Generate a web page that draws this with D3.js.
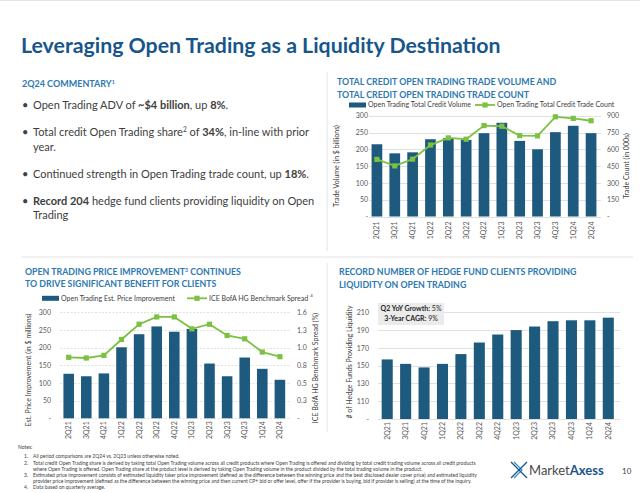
<!DOCTYPE html>
<html><head><meta charset="utf-8">
<script src="https://cdn.jsdelivr.net/npm/d3@7"></script>
<style>
body{margin:0;background:#fff}
svg{display:block;font-family:Lato,'Open Sans',sans-serif}
</style>
</head><body>
<svg id="c" width="640" height="493"></svg>
<script>
// ---------- DATA ----------
const quarters = ["2Q21","3Q21","4Q21","1Q22","2Q22","3Q22","4Q22","1Q23","2Q23","3Q23","4Q23","1Q24","2Q24"];
const tradeVolume = [215,188,191,230,233,228,248,279,225,200,251,270,248];          // $ billions
const tradeCount = [510,452,512,638,702,690,812,806,722,720,890,876,855];            // 000s
const priceImprovement = [126,119,127,201,238,260,245,253,155,119,172,140,109];       // $ millions
const benchmarkSpread = [0.92,0.91,0.95,1.19,1.42,1.53,1.53,1.35,1.42,1.25,1.20,1.00,0.93]; // %
const hedgeFunds = [157,152,148,152,163,176,185,190,194,200,201,201,204];

const volTicks = [0,50,100,150,200,250,300];
const volLabels = ["-","50","100","150","200","250","300"];
const countTicks = [0,150,300,450,600,750,900];
const countLabels = ["-","150","300","450","600","750","900"];
const piTicks = [0,50,100,150,200,250,300];
const piLabels = ["-","50","100","150","200","250","300"];
const spreadTicks = [0,1.6/6,3.2/6,0.8,6.4/6,8/6,1.6];
const spreadLabels = ["-","0.3","0.5","0.8","1.0","1.3","1.6"];
const hfTicks = [90,110,130,150,170,190,210];
const hfLabels = ["-","110","130","150","170","190","210"];

// ---------- STYLE ----------
const BAR = "#1d5a7e", GREEN = "#7cc142", NAVY = "#17568b", TEAL = "#2d79b2";
const TXT = "#404040", TICK = "#595959", GRID = "#d9d9d9";

const svg = d3.select("#c");

// frame lines
const frame = svg.append("g").attr("stroke", "#e3e3e3").attr("stroke-width", 1);
frame.append("line").attr("x1", 0).attr("x2", 640).attr("y1", 0.5).attr("y2", 0.5);
frame.append("line").attr("x1", 22).attr("x2", 633).attr("y1", 257).attr("y2", 257);
frame.append("line").attr("x1", 327).attr("x2", 327).attr("y1", 72).attr("y2", 251);
frame.append("line").attr("x1", 327).attr("x2", 327).attr("y1", 263).attr("y2", 432);

// main title
svg.append("text").attr("x", 21).attr("y", 53).attr("fill", NAVY)
  .attr("font-size", 21.3).attr("font-weight", 700).text("Leveraging Open Trading as a Liquidity Destination");

// helper for text with superscript
function supText(sel, x, y, parts, opts) {
  const t = sel.append("text").attr("x", x).attr("y", y)
    .attr("fill", opts.fill).attr("font-size", opts.size).attr("font-weight", opts.weight || 400);
  if (opts.anchor) t.attr("text-anchor", opts.anchor);
  parts.forEach(p => {
    const ts = t.append("tspan").text(p.t);
    if (p.b) ts.attr("font-weight", 700);
    if (p.sup) ts.attr("baseline-shift", "super").attr("font-size", opts.size * 0.6);
  });
  return t;
}

// ---------- COMMENTARY ----------
supText(svg, 22, 87, [{t:"2Q24 COMMENTARY"},{t:"1",sup:1}], {fill: TEAL, size: 9, weight: 700});
const bullets = [
  {y:[109], lines:[[{t:"Open Trading ADV of "},{t:"~$4 billion",b:1},{t:", up "},{t:"8%",b:1},{t:"."}]]},
  {y:[136,151], lines:[[{t:"Total credit Open Trading share"},{t:"2",sup:1},{t:" of "},{t:"34%",b:1},{t:", in-line with prior"}],[{t:"year."}]]},
  {y:[178], lines:[[{t:"Continued strength in Open Trading trade count, up "},{t:"18%",b:1},{t:"."}]]},
  {y:[205,219], lines:[[{t:"Record 204",b:1},{t:" hedge fund clients providing liquidity on Open"}],[{t:"Trading"}]]}
];
bullets.forEach(b => {
  svg.append("text").attr("x", 22).attr("y", b.y[0]).attr("fill", TXT).attr("font-size", 11).text("•");
  b.lines.forEach((ln, i) => supText(svg, 33, b.y[i], ln, {fill: TXT, size: 11}));
});

// ---------- CHART HELPER ----------
function chart(o) {
  const g = svg.append("g");
  const x = d3.scaleBand().domain(quarters).range(o.xRange).paddingInner(0.4).paddingOuter(0.2);
  const y = d3.scaleLinear().domain(o.yDomain).range(o.yRange);
  g.append("g").selectAll("line").data(o.yTicks).join("line")
    .attr("x1", o.gridX[0]).attr("x2", o.gridX[1])
    .attr("y1", d => Math.round(y(d)) + 0.5).attr("y2", d => Math.round(y(d)) + 0.5)
    .attr("stroke", GRID).attr("stroke-width", 0.8)
    .attr("stroke-dasharray", o.gridDash || null);
  g.append("g").selectAll("rect").data(o.values).join("rect")
    .attr("x", (d, i) => x(quarters[i])).attr("width", x.bandwidth())
    .attr("y", d => y(d)).attr("height", d => y(o.yDomain[0]) - y(d))
    .attr("fill", BAR);
  const la = g.append("g").attr("transform", `translate(${o.leftLabelX},0)`)
    .call(d3.axisLeft(y).tickValues(o.yTicks).tickFormat((d, i) => o.yLabels[i]).tickSize(0).tickPadding(0));
  la.select(".domain").remove();
  la.selectAll("text").attr("font-size", 7).attr("fill", TICK).attr("font-family", "Lato,sans-serif");
  const xa = g.append("g").attr("transform", `translate(0,${y(o.yDomain[0])})`)
    .call(d3.axisBottom(x).tickSize(0));
  xa.select(".domain").remove();
  xa.selectAll("text").attr("transform", "rotate(-90)").attr("text-anchor", "end")
    .attr("x", -o.xLabelGap).attr("y", 0).attr("dy", "0.35em")
    .attr("font-size", 7).attr("fill", TICK).attr("font-family", "Lato,sans-serif");
  g.append("text").attr("transform", `translate(${o.leftTitle[0]},${o.leftTitle[1]}) rotate(-90)`)
    .attr("text-anchor", "middle").attr("dy", "0.35em").attr("font-size", 7).attr("fill", TXT).text(o.leftTitle[2]);
  if (o.line) {
    const yR = d3.scaleLinear().domain(o.rDomain).range(o.yRange);
    const ra = g.append("g").attr("transform", `translate(${o.rightLabelX},0)`)
      .call(d3.axisRight(yR).tickValues(o.rTicks).tickFormat((d, i) => o.rLabels[i]).tickSize(0).tickPadding(0));
    ra.select(".domain").remove();
    ra.selectAll("text").attr("font-size", 7).attr("fill", TICK).attr("font-family", "Lato,sans-serif");
    const cx = (d, i) => x(quarters[i]) + x.bandwidth() / 2;
    g.append("path").datum(o.line)
      .attr("d", d3.line().x(cx).y(d => yR(d)))
      .attr("fill", "none").attr("stroke", GREEN).attr("stroke-width", 1.8);
    g.append("g").selectAll("rect").data(o.line).join("rect")
      .attr("x", (d, i) => cx(d, i) - 2.6).attr("y", d => yR(d) - 2.6)
      .attr("width", 5.2).attr("height", 5.2).attr("fill", GREEN);
    g.append("text").attr("transform", `translate(${o.rightTitle[0]},${o.rightTitle[1]}) rotate(-90)`)
      .attr("text-anchor", "middle").attr("dy", "0.35em").attr("font-size", 7).attr("fill", TXT).text(o.rightTitle[2]);
  }
  return {x, y};
}

function legend(y, items) {
  items.forEach(it => {
    if (it.type === "bar") {
      svg.append("rect").attr("x", it.x).attr("y", y - 2.5).attr("width", 17).attr("height", 5).attr("fill", BAR);
      svg.append("text").attr("x", it.x + 19).attr("y", y).attr("dy", "0.35em").attr("font-size", 7).attr("fill", TXT).text(it.label);
    } else {
      svg.append("line").attr("x1", it.x).attr("x2", it.x + 20).attr("y1", y).attr("y2", y).attr("stroke", GREEN).attr("stroke-width", 1.8);
      svg.append("rect").attr("x", it.x + 7.4).attr("y", y - 2.6).attr("width", 5.2).attr("height", 5.2).attr("fill", GREEN);
      const t = svg.append("text").attr("x", it.x + 22).attr("y", y).attr("dy", "0.35em").attr("font-size", 7).attr("fill", TXT).text(it.label);
      if (it.sup) t.append("tspan").attr("dx", 2).attr("dy", -4).attr("font-size", 4.5).text(it.sup);
    }
  });
}

function title2(x, y, parts) {
  return supText(svg, x, y, parts, {fill: TEAL, size: 8.8, weight: 700});
}

// ---------- CHART 1 ----------
title2(337, 85, [{t:"TOTAL CREDIT OPEN TRADING TRADE VOLUME AND"}]);
title2(337, 97.5, [{t:"TOTAL CREDIT OPEN TRADING TRADE COUNT"}]);
legend(105, [
  {type: "bar", x: 349, label: "Open Trading Total Credit Volume"},
  {type: "line", x: 475, label: "Open Trading Total Credit Trade Count"}
]);
chart({
  xRange: [368, 600], yDomain: [0, 300], yRange: [216.5, 115.7], yTicks: volTicks, yLabels: volLabels,
  gridX: [369, 601], values: tradeVolume, leftLabelX: 368, xLabelGap: 5,
  leftTitle: [337, 166, "Trade Volume (in $ billions)"],
  line: tradeCount, rDomain: [0, 900], rTicks: countTicks, rLabels: countLabels, rightLabelX: 607,
  rightTitle: [627, 166, "Trade Count (in 000s)"]
});

// ---------- CHART 2 ----------
title2(25, 274.5, [{t:"OPEN TRADING PRICE IMPROVEMENT"},{t:"3",sup:1},{t:" CONTINUES"}]);
title2(25, 287, [{t:"TO DRIVE SIGNIFICANT BENEFIT FOR CLIENTS"}]);
legend(298.3, [
  {type: "bar", x: 42, label: "Open Trading Est. Price Improvement"},
  {type: "line", x: 187, label: "ICE BofA HG Benchmark Spread", sup: "4"}
]);
chart({
  xRange: [59.9, 288.7], yDomain: [0, 300], yRange: [418.3, 312.3], yTicks: piTicks, yLabels: piLabels,
  gridX: [60, 290], gridDash: "2,1.5", values: priceImprovement, leftLabelX: 51, xLabelGap: 3,
  leftTitle: [28.5, 370, "Est. Price Improvement (in $ millions)"],
  line: benchmarkSpread, rDomain: [0, 1.6], rTicks: spreadTicks, rLabels: spreadLabels, rightLabelX: 297,
  rightTitle: [316, 368, "ICE BofA HG Benchmark Spread (%)"]
});

// ---------- CHART 3 ----------
title2(339, 275, [{t:"RECORD NUMBER OF HEDGE FUND CLIENTS PROVIDING"}]);
title2(339, 287.5, [{t:"LIQUIDITY ON OPEN TRADING"}]);
chart({
  xRange: [378, 617.5], yDomain: [90, 210], yRange: [419, 312.3], yTicks: hfTicks, yLabels: hfLabels,
  gridX: [378, 620], values: hedgeFunds, leftLabelX: 369, xLabelGap: 3,
  leftTitle: [350, 362, "# of Hedge Funds Providing Liquidity"]
});
svg.append("rect").attr("x", 378).attr("y", 303).attr("width", 66).attr("height", 22).attr("fill", "#ebebeb");
supText(svg, 411, 308.5, [{t:"Q2 YoY Growth:",b:1},{t:" 5%"}], {fill: "#262626", size: 7, anchor: "middle"}).attr("dy","0.35em");
supText(svg, 411, 318.5, [{t:"3-Year CAGR:",b:1},{t:" 9%"}], {fill: "#262626", size: 7, anchor: "middle"}).attr("dy","0.35em");

// ---------- NOTES ----------
const notes = svg.append("g").attr("font-size", 5).attr("fill", TXT);
notes.append("text").attr("x", 18).attr("y", 449).text("Notes:");
const noteLines = [
  ["1.", "All period comparisons are 2Q24 vs. 2Q23 unless otherwise noted.", 458],
  ["2.", "Total credit Open Trading share is derived by taking total Open Trading volume across all credit products where Open Trading is offered and dividing by total credit trading volume across all credit products", 465],
  ["", "where Open Trading is offered. Open Trading share at the product level is derived by taking Open Trading volume in the product divided by the total trading volume in the product.", 471],
  ["3.", "Estimated price improvement consists of estimated liquidity taker price improvement (defined as the difference between the winning price and the best disclosed dealer cover price) and estimated liquidity", 477],
  ["", "provider price improvement (defined as the difference between the winning price and then current CP+ bid or offer level, offer if the provider is buying, bid if provider is selling) at the time of the inquiry.", 483],
  ["4.", "Data based on quarterly average.", 489]
];
noteLines.forEach(n => {
  if (n[0]) notes.append("text").attr("x", 24).attr("y", n[2]).text(n[0]);
  notes.append("text").attr("x", 33).attr("y", n[2]).text(n[1]);
});

// ---------- LOGO ----------
const logo = svg.append("g").attr("stroke", NAVY).attr("stroke-width", 1.3).attr("fill", "none");
logo.append("path").attr("d", "M511,462 L519,470 L511,478");
logo.append("path").attr("d", "M514,462 L522,470 L514,478").attr("stroke", "#3f8fc9");
logo.append("path").attr("d", "M527,462 L519,470 L527,478");
const lt = svg.append("text").attr("x", 529).attr("y", 475).attr("font-size", 13).attr("fill", "#4a4a4a");
lt.append("tspan").text("Market");
lt.append("tspan").attr("font-weight", 700).attr("fill", NAVY).text("Axess");
svg.append("text").attr("x", 622).attr("y", 474).attr("font-size", 8).attr("fill", TXT).text("10");
</script>
</body></html>
